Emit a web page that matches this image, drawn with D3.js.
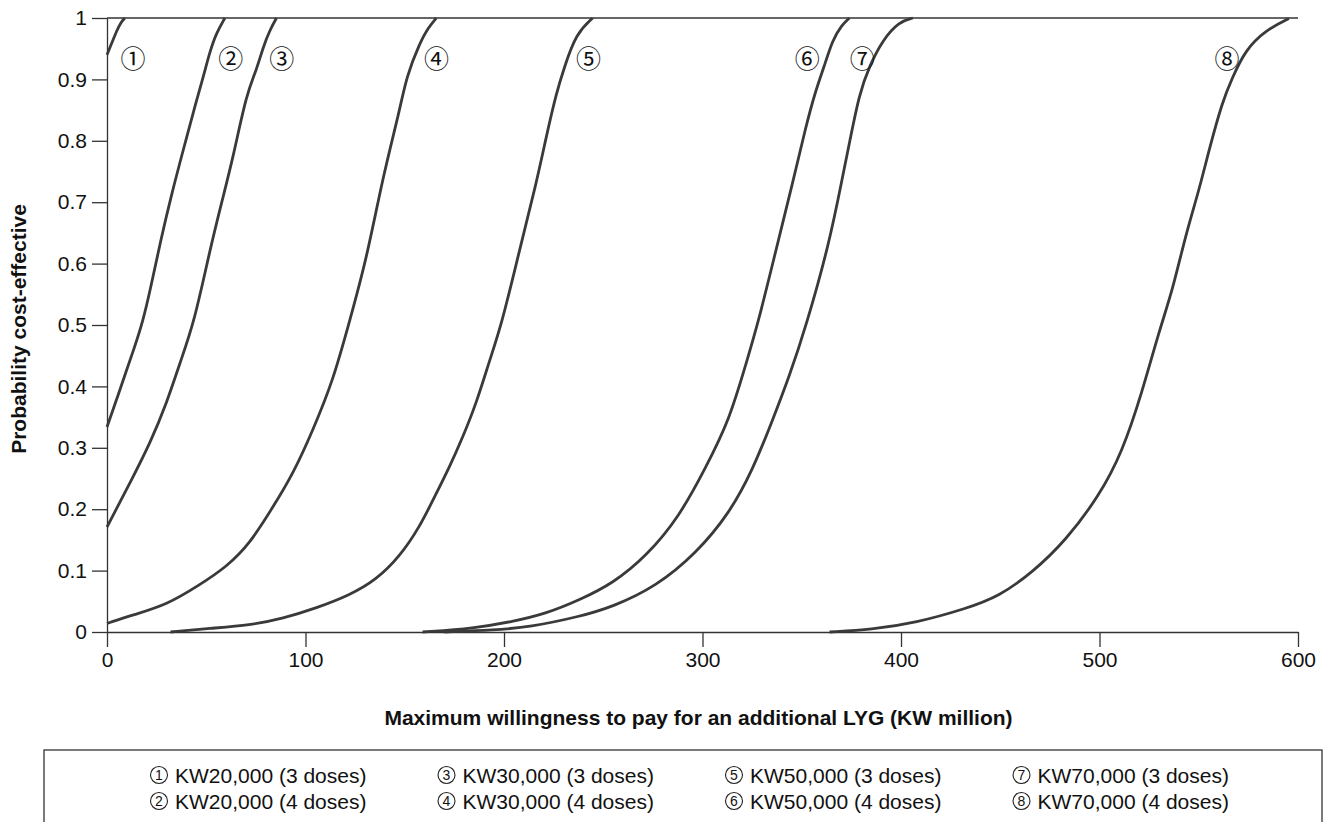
<!DOCTYPE html>
<html>
<head>
<meta charset="utf-8">
<script src="https://cdn.jsdelivr.net/npm/d3@7"></script>
<style>
  body { margin: 0; background: #fff; }
  text { font-family: "Liberation Sans", Arial, sans-serif; fill: #111; }
  .circ { font-family: "Noto Sans CJK JP", "DejaVu Sans", sans-serif; }
</style>
</head>
<body>
<script>
// x: max willingness to pay (KW million), y: probability cost-effective
const curve1 = [[0,0.94],[2.5,0.96],[5,0.98],[7,0.993],[9,1]];
const curve2 = [[0,0.334],[5,0.38],[9.9,0.427],[14,0.465],[18,0.505],[22,0.56],[26.7,0.633],[32.6,0.714],[38.4,0.785],[45.1,0.866],[48.5,0.904],[51.8,0.945],[55,0.975],[59.4,1]];
const curve3 = [[0,0.171],[13.2,0.253],[21.6,0.307],[30,0.372],[36.7,0.438],[44,0.505],[51.8,0.622],[58.5,0.709],[63.6,0.774],[70.3,0.877],[75.3,0.915],[78.7,0.953],[82,0.98],[85.4,1]];
const curve4 = [[0,0.014],[13.2,0.028],[30,0.044],[46.8,0.077],[60.2,0.106],[72,0.144],[83.7,0.204],[93.8,0.258],[103.8,0.329],[113.9,0.41],[121.4,0.497],[130.7,0.606],[139,0.742],[147.5,0.85],[150.8,0.904],[157.5,0.959],[162,0.985],[165.9,1]];
const curve5 = [[32,0],[52,0.006],[72,0.011],[88.7,0.022],[105.5,0.039],[122.3,0.06],[135.7,0.085],[147.5,0.123],[157.5,0.171],[165,0.22],[172.6,0.269],[179.3,0.318],[186,0.372],[192.8,0.443],[199,0.503],[207.8,0.622],[216.3,0.731],[221.3,0.807],[226.3,0.877],[230.5,0.921],[236.4,0.975],[244.7,1]];
const curve6 = [[159,0],[185,0.006],[204.5,0.017],[221.3,0.03],[238,0.052],[254.8,0.079],[271.6,0.123],[288.4,0.188],[301.8,0.269],[313.5,0.345],[322,0.438],[328,0.503],[337,0.622],[345.4,0.731],[352.1,0.824],[357.1,0.883],[361.3,0.921],[365.5,0.964],[370,0.988],[374,1]];
const curve7 = [[170,0],[195,0.003],[212.9,0.008],[238,0.025],[254.8,0.041],[276.6,0.074],[296.8,0.128],[313.5,0.193],[325.3,0.264],[335.3,0.345],[343.7,0.416],[352.1,0.497],[363.9,0.633],[370.6,0.742],[374,0.796],[379,0.877],[384,0.921],[390.7,0.964],[399,0.994],[406,1]];
const curve8 = [[364,0],[385,0.004],[407.5,0.015],[432.7,0.038],[449.4,0.058],[466.2,0.097],[483,0.149],[499.7,0.221],[511.5,0.293],[521.5,0.391],[530,0.49],[536.7,0.555],[543.4,0.647],[550.1,0.719],[555.1,0.784],[561.8,0.863],[566.8,0.902],[573.5,0.948],[583.6,0.98],[595.4,0.999]];

const curves = [curve1, curve2, curve3, curve4, curve5, curve6, curve7, curve8];
const marks = ["①","②","③","④","⑤","⑥","⑦","⑧"];
const markWtp = [13.1, 62.4, 88, 166, 242.6, 352.8, 380.5, 564.2];
const markProb = 0.936;
const names = ["KW20,000 (3 doses)","KW20,000 (4 doses)","KW30,000 (3 doses)","KW30,000 (4 doses)",
               "KW50,000 (3 doses)","KW50,000 (4 doses)","KW70,000 (3 doses)","KW70,000 (4 doses)"];
const xTicks = [0,100,200,300,400,500,600];
const yTicks = [0,0.1,0.2,0.3,0.4,0.5,0.6,0.7,0.8,0.9,1];

const width = 1327, height = 822;
const svg = d3.select("body").append("svg").attr("width", width).attr("height", height);

const x = d3.scaleLinear().domain([0,600]).range([107,1298]);
const y = d3.scaleLinear().domain([0,1]).range([632,18]);

// axes
const gx = svg.append("g").attr("transform", `translate(0,${y(0)})`)
    .call(d3.axisBottom(x).tickValues(xTicks).tickSize(15).tickSizeOuter(0).tickPadding(5));
const gy = svg.append("g").attr("transform", `translate(${x(0)},0)`)
    .call(d3.axisLeft(y).tickValues(yTicks).tickSize(15).tickSizeOuter(0).tickPadding(5).tickFormat(d => String(d)));
[gx, gy].forEach(g => {
    g.selectAll("path, line").attr("stroke", "#333").attr("stroke-width", 1.3);
    g.selectAll("text").style("font-size", "21px").attr("fill", "#111");
});
svg.append("line")
    .attr("x1", x(0)).attr("x2", x(600))
    .attr("y1", y(1)).attr("y2", y(1))
    .attr("stroke", "#333").attr("stroke-width", 1.3);

// curves
const line = d3.line().x(d => x(d[0])).y(d => y(d[1])).curve(d3.curveBasis);
svg.append("g").selectAll("path")
    .data(curves)
    .enter()
    .append("path")
    .attr("d", line)
    .attr("fill", "none")
    .attr("stroke", "#3a3a3a")
    .attr("stroke-width", 2.8)
    .attr("stroke-linejoin", "round");

// curve numbers
svg.append("g").selectAll("text")
    .data(marks)
    .enter()
    .append("text")
    .attr("class", "circ")
    .attr("x", (d,i) => x(markWtp[i]))
    .attr("y", y(markProb))
    .attr("text-anchor", "middle")
    .attr("dominant-baseline", "central")
    .style("font-size", "25px")
    .text(d => d);

// axis titles
svg.append("text")
    .attr("x", (x(0) + x(600)) / 2 - 4)
    .attr("y", 725)
    .attr("text-anchor", "middle")
    .style("font-size", "21px").style("font-weight", "bold")
    .text("Maximum willingness to pay for an additional LYG (KW million)");
svg.append("text")
    .attr("transform", `translate(26,${(y(0) + y(1)) / 2 + 4}) rotate(-90)`)
    .attr("text-anchor", "middle")
    .style("font-size", "21px").style("font-weight", "bold")
    .text("Probability cost-effective");

// legend
svg.append("rect")
    .attr("x", 44).attr("y", 750).attr("width", 1278).attr("height", 120)
    .attr("fill", "none").attr("stroke", "#333").attr("stroke-width", 1.3);
const leg = svg.append("g").selectAll("g")
    .data(names)
    .enter()
    .append("g")
    .attr("transform", (d,i) => `translate(${159 + Math.floor(i/2) * 287.5},${i % 2 ? 801 : 775})`);
leg.append("circle")
    .attr("r", 8.5)
    .attr("fill", "none")
    .attr("stroke", "#222")
    .attr("stroke-width", 1.1);
leg.append("text")
    .attr("text-anchor", "middle")
    .attr("dominant-baseline", "central")
    .style("font-size", "14px")
    .text((d,i) => i + 1);
leg.append("text")
    .attr("x", 16)
    .attr("dominant-baseline", "central")
    .style("font-size", "21px")
    .text(d => d);
</script>
</body>
</html>
